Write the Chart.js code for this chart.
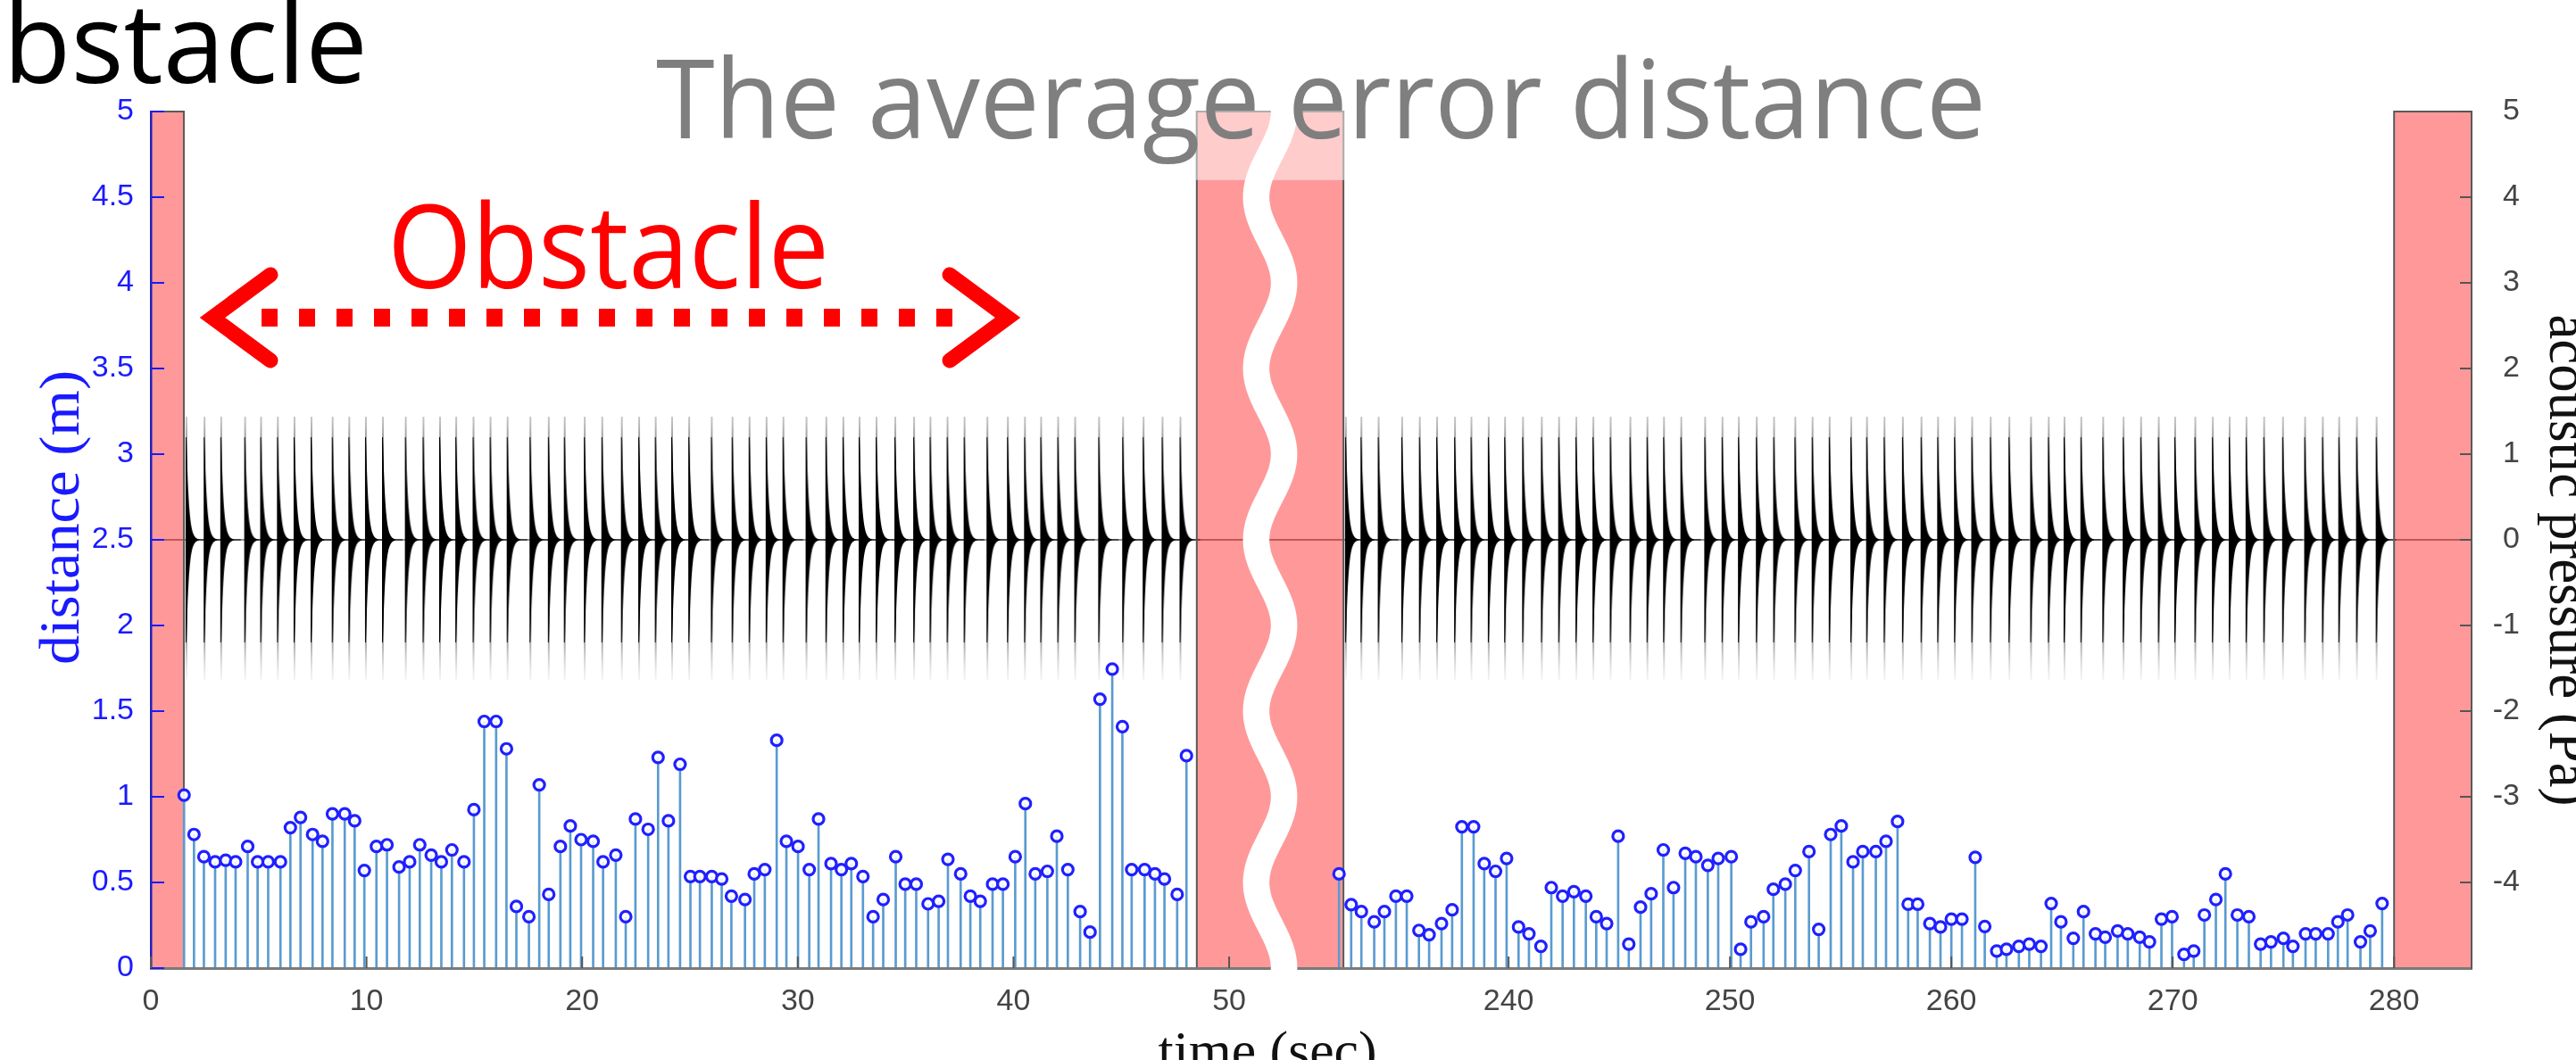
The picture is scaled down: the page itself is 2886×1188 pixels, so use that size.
<!DOCTYPE html>
<html>
<head>
<meta charset="utf-8">
<title>The average error distance</title>
<script src="https://cdn.jsdelivr.net/npm/chart.js@4.4.1/dist/chart.umd.min.js"></script>
<style>
  html, body { margin: 0; padding: 0; background: #fff; }
  #wrap { position: relative; width: 2886px; height: 1188px; overflow: hidden; }
  #chart { position: absolute; left: 0; top: 0; }
  #notes { position: absolute; left: 0; top: 0; pointer-events: none; }
</style>
</head>
<body>
<div id="wrap">
  <canvas id="chart" width="2886" height="1188"></canvas>
  <svg id="notes" width="2886" height="1188" viewBox="0 0 2886 1188" xmlns="http://www.w3.org/2000/svg">
    <!-- slide text around the plot -->
    <text x="412" y="93" text-anchor="end" font-family="Open Sans" font-size="124" fill="#000">Obstacle</text>
    <text x="1520" y="-19" font-family="Open Sans" font-size="120" fill="#999" textLength="170" lengthAdjust="spacingAndGlyphs">(b)</text>
    <text x="735" y="155" font-family="Open Sans" font-size="123" fill="#7f7f7f" textLength="1490" lengthAdjust="spacingAndGlyphs">The average error distance</text>
    <text x="434" y="323" font-family="Open Sans" font-size="130" fill="#ff0000" textLength="495" lengthAdjust="spacingAndGlyphs">Obstacle</text>
    <!-- obstacle arrow -->
    <g stroke="#ff0000" fill="none">
      <line x1="293" y1="356" x2="1088" y2="356" stroke-width="20" stroke-dasharray="18 24"/>
      <polyline points="303,308 238,356 303,404" stroke-width="17" stroke-linecap="round" stroke-linejoin="miter"/>
      <polyline points="1064,308 1129,356 1064,404" stroke-width="17" stroke-linecap="round" stroke-linejoin="miter"/>
    </g>
    <!-- axis titles -->
    <text transform="translate(88,580) rotate(-90)" text-anchor="middle" font-family="Liberation Serif" font-size="64" fill="#1a1aff" textLength="330" lengthAdjust="spacingAndGlyphs">distance (m)</text>
    <text transform="translate(2857,628) rotate(90)" text-anchor="middle" font-family="Liberation Serif" font-size="64" fill="#111" textLength="551" lengthAdjust="spacingAndGlyphs">acoustic pressure (Pa)</text>
    <text x="1420" y="1198" text-anchor="middle" font-family="Liberation Serif" font-size="62" fill="#111" textLength="245" lengthAdjust="spacingAndGlyphs">time (sec)</text>
  </svg>
</div>
<script>
/* ── values ─────────────────────────────────────────────── */
// first panel, 0 .. 48.5 s
const stemTimesA = [1.54,2.0,2.46,2.98,3.47,3.93,4.49,4.95,5.44,6.01,6.47,6.94,7.5,7.96,8.42,8.99,9.45,9.9,10.46,10.95,
  11.51,12.0,12.47,13.0,13.47,13.96,14.52,14.98,15.46,16.01,16.49,16.95,17.53,18.01,18.45,18.99,19.45,19.95,20.51,20.97,
  21.56,22.02,22.47,23.06,23.52,24.0,24.54,25.02,25.46,26.01,26.47,26.92,27.55,27.98,28.47,29.02,29.47,30.01,30.53,30.96,
  31.54,32.02,32.48,33.02,33.49,33.96,34.54,34.98,35.49,36.04,36.53,36.96,37.55,38.0,38.46,39.03,39.51,40.08,40.55,41.01,
  41.57,42.01,42.52,43.09,43.55,44.01,44.58,45.05,45.48,46.08,46.56,47.0,47.59,48.02];
const stemDistA = [1.01,0.78,0.65,0.62,0.63,0.62,0.71,0.62,0.62,0.62,0.82,0.88,0.78,0.74,0.90,0.90,0.86,0.57,0.71,0.72,
  0.59,0.62,0.72,0.66,0.62,0.69,0.62,0.925,1.44,1.44,1.28,0.36,0.30,1.07,0.43,0.71,0.83,0.75,0.74,0.62,
  0.66,0.30,0.87,0.81,1.23,0.86,1.19,0.535,0.535,0.535,0.52,0.42,0.40,0.55,0.575,1.33,0.74,0.71,0.575,0.87,
  0.61,0.575,0.61,0.535,0.30,0.40,0.65,0.49,0.49,0.375,0.39,0.635,0.55,0.42,0.39,0.49,0.49,0.65,0.96,0.55,
  0.565,0.77,0.575,0.33,0.21,1.57,1.745,1.41,0.575,0.575,0.55,0.52,0.43,1.24];
// second panel, 232.5 .. 283.5 s
const stemTimesB = [232.34,232.89,233.35,233.93,234.39,234.91,235.40,235.95,236.41,236.97,237.45,237.89,238.42,238.90,239.41,239.91,
  240.45,240.92,241.46,241.93,242.44,242.95,243.49,243.96,244.43,244.95,245.43,245.96,246.44,246.99,247.45,247.98,248.46,249.0,249.47,
  250.06,250.48,250.95,251.52,251.96,252.5,252.95,253.57,254.01,254.55,255.03,255.56,256.0,256.59,257.05,257.57,258.05,258.48,259.03,259.51,
  260.0,260.48,261.08,261.51,262.05,262.49,263.05,263.52,264.05,264.51,264.95,265.51,265.97,266.51,266.95,267.51,267.97,268.51,268.95,269.49,
  269.97,270.51,270.95,271.43,271.95,272.38,272.92,273.44,273.97,274.44,275.0,275.43,276.0,276.46,277.02,277.46,277.9,278.48,278.92,279.46];
const stemDistB = [0.55,0.37,0.33,0.27,0.33,0.42,0.42,0.22,0.195,0.26,0.34,0.825,0.825,0.61,0.565,0.64,
  0.24,0.20,0.127,0.47,0.42,0.446,0.42,0.30,0.26,0.77,0.14,0.356,0.434,0.69,0.47,0.67,0.65,0.60,0.64,
  0.65,0.11,0.27,0.30,0.46,0.49,0.57,0.68,0.226,0.78,0.83,0.62,0.68,0.68,0.74,0.856,0.373,0.373,0.26,0.24,
  0.286,0.286,0.647,0.243,0.10,0.11,0.127,0.14,0.127,0.377,0.27,0.174,0.33,0.20,0.18,0.217,0.20,0.18,0.153,0.286,
  0.30,0.08,0.10,0.31,0.40,0.55,0.31,0.30,0.14,0.153,0.174,0.127,0.20,0.20,0.20,0.27,0.31,0.153,0.217,0.377];
// acoustic pulses (pressure trace)
const pulseTimesA = [1.65,2.49,3.26,4.37,5.11,5.89,6.66,7.45,8.43,9.20,9.97,10.76,11.82,12.64,13.41,14.16,14.96,15.75,16.54,17.6,
  18.45,19.19,20.12,20.93,21.84,22.64,23.41,24.17,24.96,26.01,26.97,27.76,28.55,29.33,30.4,31.32,32.11,32.86,33.65,34.52,
  35.39,36.15,36.94,37.73,38.79,39.74,40.53,41.28,42.07,42.86,43.97,45.08,46.03,46.91,47.74];
const pulseTimesB = [232.65,233.35,234.13,235.19,235.99,236.77,237.58,238.32,239.1,239.84,240.65,241.5,242.28,243.06,243.83,244.61,
  245.5,246.27,247.02,247.8,248.88,249.66,250.4,251.21,251.99,252.95,253.73,254.5,255.48,256.19,256.98,257.81,258.65,259.4,
  260.16,260.94,261.78,262.62,263.6,264.4,265.11,265.87,266.86,267.78,268.57,269.37,270.11,271.02,271.81,272.57,273.33,274.13,
  274.98,275.98,276.78,277.52,278.32,279.21];
const baselineTimes = [0, 283.5];
const xTickValues = [0, 10, 20, 30, 40, 50, 240, 250, 260, 270, 280];
const obstacleSpans = [[0, 1.53], [280, 283.5]];
const breakSpan = [48.5, 232.54];

/* ── broken time axis ───────────────────────────────────── */
const gapWidth = 6.8;         // axis units used by the break box
const rightStretch = 1.0265;  // right panel is drawn a bit wider per second
const panelSplit = 150;       // any time between the two recordings
function axisX(t) {
  if (t < panelSplit) return t;   // left panel (its scale runs on into the break box)
  return breakSpan[0] + gapWidth + (t - breakSpan[1]) * rightStretch;
}
const xMax = axisX(283.5);

// one decaying burst, used as point marker for the pressure pulses
function makePulseGlyph() {
  const c = document.createElement('canvas');
  c.width = 48; c.height = 320;
  const g = c.getContext('2d');
  const cx = 24, cy = 160;
  const top = cy - 138, bot = cy + 157;
  const grad = g.createLinearGradient(0, top, 0, bot);
  grad.addColorStop(0, 'rgba(120,120,120,0.5)');
  grad.addColorStop(0.2, 'rgba(30,30,30,1)');
  grad.addColorStop(0.75, 'rgba(30,30,30,1)');
  grad.addColorStop(0.88, 'rgba(120,120,120,0.65)');
  grad.addColorStop(1, 'rgba(200,200,200,0.25)');
  g.fillStyle = grad;
  g.fillRect(cx - 0.8, top, 1.6, bot - top);
  g.beginPath();
  g.moveTo(cx - 1.0, cy - 115);
  for (let i = 0; i <= 44; i++) g.lineTo(cx + i / 2, cy - Math.max(115 * Math.exp(-i / 2 / 2.7), 0.6));
  for (let i = 44; i >= 0; i--) g.lineTo(cx + i / 2, cy + Math.max(115 * Math.exp(-i / 2 / 2.7), 0.6));
  g.lineTo(cx - 1.0, cy + 115);
  g.closePath();
  g.fillStyle = '#000';
  g.fill();
  return c;
}

const stemTimes = stemTimesA.concat(stemTimesB);
const stemDist = stemDistA.concat(stemDistB);
const pulseTimes = pulseTimesA.concat(pulseTimesB);

// obstacle boxes, drawn right after the pressure trace so stems sit on top
const bandPlugin = {
  id: 'bands',
  afterDatasetDraw(chart, args) {
    if (args.index !== 1) return;
    const { ctx, chartArea: a, scales: { x } } = chart;
    ctx.save();
    obstacleSpans.concat([breakSpan]).forEach(([t0, t1]) => {
      const x0 = x.getPixelForValue(axisX(t0)), x1 = x.getPixelForValue(axisX(t1));
      ctx.fillStyle = 'rgba(255,0,0,0.4)';
      ctx.fillRect(x0, a.top, x1 - x0, a.bottom - a.top);
      ctx.strokeStyle = '#5a5a5a';
      ctx.lineWidth = 2;
      ctx.strokeRect(x0, a.top, x1 - x0, a.bottom - a.top);
    });
    ctx.restore();
  }
};

// break symbol, inner tick marks
const decorPlugin = {
  id: 'decor',
  afterDraw(chart) {
    const { ctx, chartArea: a, scales: { x, y, y2 } } = chart;
    const bx0 = x.getPixelForValue(axisX(breakSpan[0]));
    const bx1 = x.getPixelForValue(axisX(breakSpan[1]));
    const w = bx1 - bx0, cx = (bx0 + bx1) / 2;
    ctx.save();
    ctx.fillStyle = 'rgba(255,255,255,0.5)';
    ctx.fillRect(bx0 - 1, a.top - 1, w + 2, y.getPixelForValue(4.6) - a.top + 1);
    ctx.beginPath();
    for (let i = 0; i <= 520; i++) {
      const d = -0.12 + i * 0.01;
      const px = cx + 0.095 * w * Math.cos(2 * Math.PI * d);
      const py = y.getPixelForValue(d);
      if (i === 0) ctx.moveTo(px, py); else ctx.lineTo(px, py);
    }
    ctx.strokeStyle = '#fff';
    ctx.lineWidth = 0.18 * w;
    ctx.stroke();

    const tick = (x1, y1, x2, y2_) => { ctx.beginPath(); ctx.moveTo(x1, y1); ctx.lineTo(x2, y2_); ctx.stroke(); };
    ctx.lineWidth = 2;
    ctx.strokeStyle = '#1a1aff';
    y.ticks.forEach(tk => { const py = y.getPixelForValue(tk.value); tick(a.left, py, a.left + 15, py); });
    ctx.strokeStyle = '#555';
    y2.ticks.forEach(tk => { const py = y2.getPixelForValue(tk.value); tick(a.right - 13, py, a.right, py); });
    x.ticks.forEach(tk => { const px = x.getPixelForValue(tk.value); tick(px, a.bottom, px, a.bottom - 13); });
    ctx.restore();
  }
};

const tickFont = { family: "'Liberation Sans', Arial, sans-serif", size: 34 };

new Chart(document.getElementById('chart'), {
  data: {
    datasets: [
      {
        type: 'line', label: 'pressure baseline', yAxisID: 'y2',
        data: baselineTimes.map(t => ({ x: axisX(t), y: 0 })),
        borderColor: '#2a2a2a', borderWidth: 1.2, pointRadius: 0, order: 5
      },
      {
        type: 'scatter', label: 'acoustic pressure', yAxisID: 'y2',
        data: pulseTimes.map(t => ({ x: axisX(t), y: 0 })),
        pointStyle: makePulseGlyph(), pointRadius: 1, order: 4
      },
      {
        type: 'bar', label: 'stems', yAxisID: 'y',
        data: stemTimes.map((t, i) => ({ x: axisX(t), y: stemDist[i] })),
        backgroundColor: '#5a9bd0', barThickness: 2, order: 2
      },
      {
        type: 'scatter', label: 'distance', yAxisID: 'y',
        data: stemTimes.map((t, i) => ({ x: axisX(t), y: stemDist[i] })),
        pointStyle: 'circle', pointRadius: 6, borderWidth: 3.2,
        borderColor: '#2020ff', backgroundColor: 'rgba(255,255,255,0.85)', order: 1
      }
    ]
  },
  options: {
    responsive: false,
    animation: false,
    devicePixelRatio: 1,
    events: [],
    layout: { padding: { top: 125, left: 0, right: 63, bottom: 0 } },
    plugins: { legend: { display: false }, tooltip: { enabled: false } },
    scales: {
      x: {
        type: 'linear', min: 0, max: xMax, offset: false,
        afterBuildTicks: s => { s.ticks = xTickValues.map(v => ({ value: axisX(v) })); },
        ticks: { callback: (v, i) => xTickValues[i], font: tickFont, color: '#444', padding: 17, maxRotation: 0, autoSkip: false },
        grid: { display: false, drawTicks: false },
        border: { display: true, color: '#7a7a7a', width: 3, z: 1 },
        afterFit: s => { s.height = 103; }
      },
      y: {
        type: 'linear', position: 'left', min: 0, max: 5,
        ticks: { stepSize: 0.5, color: '#1a1aff', font: tickFont, padding: 19, callback: v => String(Math.round(v * 10) / 10) },
        grid: { display: false, drawTicks: false },
        border: { display: true, color: '#2020c0', width: 2.5, z: 1 },
        afterFit: s => { s.width = 169; }
      },
      y2: {
        type: 'linear', position: 'right', min: -5, max: 5,
        ticks: { stepSize: 1, color: '#444', font: tickFont, padding: 25, crossAlign: 'far', callback: v => (v === -5 ? null : String(v)) },
        grid: { display: false, drawTicks: false },
        border: { display: true, color: '#5a5a5a', width: 2, z: 1 },
        afterFit: s => { s.width = 54; }
      }
    }
  },
  plugins: [bandPlugin, decorPlugin]
});
</script>
</body>
</html>
